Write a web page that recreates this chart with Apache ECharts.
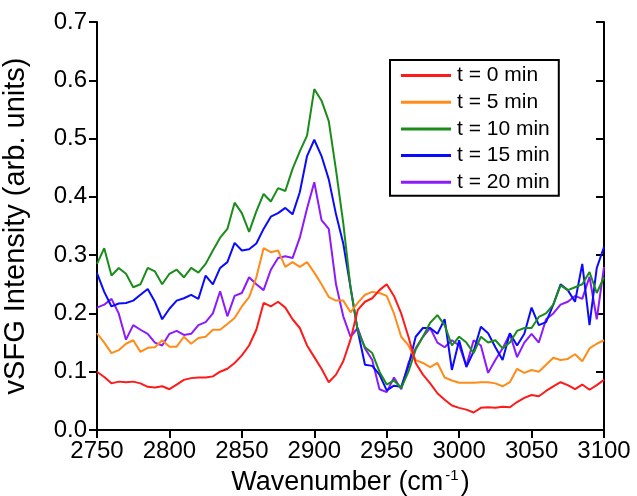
<!DOCTYPE html>
<html>
<head>
<meta charset="utf-8">
<script src="https://cdn.jsdelivr.net/npm/echarts@6/dist/echarts.min.js"></script>
<style>
  html, body { margin: 0; padding: 0; background: #fff; }
  #chart { width: 637px; height: 496px; }
</style>
</head>
<body>
<div id="chart"></div>
<script>
// Wavenumber grid (cm-1)
const wavenumbers = [
  2750, 2755, 2760, 2765, 2770, 2775, 2780, 2785, 2790, 2795,
  2800, 2805, 2810, 2815, 2820, 2825, 2830, 2835, 2840, 2845,
  2850, 2855, 2860, 2865, 2870, 2875, 2880, 2885, 2890, 2895,
  2900, 2905, 2910, 2915, 2920, 2925, 2930, 2935, 2940, 2945,
  2950, 2955, 2960, 2965, 2970, 2975, 2980, 2985, 2990, 2995,
  3000, 3005, 3010, 3015, 3020, 3025, 3030, 3035, 3040, 3045,
  3050, 3055, 3060, 3065, 3070, 3075, 3080, 3085, 3090, 3095,
  3100
];

// vSFG intensity (arb. units) for each time point
const t0 = [
  0.100, 0.091, 0.080, 0.083, 0.082, 0.083, 0.080, 0.074, 0.073, 0.075,
  0.070, 0.078, 0.086, 0.089, 0.090, 0.090, 0.092, 0.100, 0.105, 0.115,
  0.128, 0.145, 0.172, 0.218, 0.212, 0.220, 0.210, 0.190, 0.175, 0.145,
  0.125, 0.105, 0.082, 0.095, 0.118, 0.155, 0.206, 0.220, 0.226, 0.240,
  0.250, 0.230, 0.200, 0.160, 0.115, 0.095, 0.080, 0.063, 0.052, 0.042,
  0.038, 0.035, 0.030, 0.038, 0.039, 0.038, 0.040, 0.039, 0.048, 0.055,
  0.060, 0.058, 0.067, 0.075, 0.082, 0.077, 0.070, 0.078, 0.069, 0.077,
  0.086
];
const t5 = [
  0.166, 0.150, 0.132, 0.137, 0.148, 0.154, 0.134, 0.141, 0.142, 0.154,
  0.143, 0.143, 0.160, 0.148, 0.158, 0.160, 0.172, 0.172, 0.182, 0.192,
  0.212, 0.228, 0.262, 0.312, 0.305, 0.308, 0.280, 0.288, 0.280, 0.288,
  0.270, 0.250, 0.228, 0.222, 0.222, 0.202, 0.218, 0.232, 0.237, 0.235,
  0.230, 0.200, 0.160, 0.145, 0.120, 0.115, 0.108, 0.115, 0.090, 0.085,
  0.081, 0.081, 0.081, 0.082, 0.082, 0.080, 0.075, 0.082, 0.105, 0.098,
  0.103, 0.100, 0.112, 0.124, 0.120, 0.122, 0.130, 0.118, 0.140, 0.148,
  0.154
];
const t10 = [
  0.285, 0.312, 0.265, 0.278, 0.268, 0.245, 0.250, 0.278, 0.272, 0.250,
  0.268, 0.275, 0.262, 0.278, 0.270, 0.285, 0.308, 0.330, 0.345, 0.390,
  0.372, 0.340, 0.375, 0.405, 0.392, 0.415, 0.410, 0.448, 0.478, 0.505,
  0.585, 0.565, 0.530, 0.446, 0.355, 0.245, 0.170, 0.142, 0.132, 0.100,
  0.078, 0.085, 0.072, 0.100, 0.138, 0.160, 0.184, 0.197, 0.180, 0.145,
  0.160, 0.150, 0.132, 0.160, 0.150, 0.154, 0.140, 0.150, 0.170, 0.175,
  0.175, 0.194, 0.200, 0.215, 0.248, 0.240, 0.245, 0.250, 0.271, 0.235,
  0.262
];
const t15 = [
  0.269, 0.237, 0.212, 0.217, 0.218, 0.222, 0.232, 0.242, 0.220, 0.190,
  0.208, 0.222, 0.226, 0.232, 0.225, 0.265, 0.250, 0.278, 0.288, 0.321,
  0.308, 0.310, 0.320, 0.345, 0.366, 0.372, 0.381, 0.370, 0.408, 0.470,
  0.498, 0.470, 0.430, 0.370, 0.320, 0.245, 0.170, 0.112, 0.110, 0.095,
  0.068, 0.076, 0.074, 0.110, 0.160, 0.175, 0.175, 0.165, 0.190, 0.103,
  0.154, 0.108, 0.135, 0.177, 0.166, 0.142, 0.120, 0.166, 0.145, 0.165,
  0.210, 0.180, 0.185, 0.215, 0.250, 0.240, 0.220, 0.285, 0.180, 0.278,
  0.314
];
const t20 = [
  0.210, 0.215, 0.225, 0.200, 0.155, 0.180, 0.172, 0.165, 0.150, 0.145,
  0.165, 0.170, 0.163, 0.165, 0.180, 0.185, 0.200, 0.238, 0.195, 0.230,
  0.235, 0.262, 0.250, 0.240, 0.275, 0.295, 0.298, 0.295, 0.330, 0.380,
  0.425, 0.360, 0.345, 0.250, 0.195, 0.160, 0.175, 0.140, 0.120, 0.070,
  0.065, 0.090, 0.070, 0.115, 0.140, 0.160, 0.175, 0.150, 0.142, 0.154,
  0.145, 0.110, 0.154, 0.145, 0.098, 0.120, 0.140, 0.165, 0.125, 0.150,
  0.165, 0.150, 0.190, 0.200, 0.215, 0.220, 0.230, 0.225, 0.263, 0.190,
  0.280
];

const seriesNames = ['t = 0 min', 't = 5 min', 't = 10 min', 't = 15 min', 't = 20 min'];
const seriesValues = [t0, t5, t10, t15, t20];
const seriesColors = ['#ff1a1a', '#ff8c1a', '#1a8c1a', '#0a0aff', '#8c1aff'];

const xTicks = [2750, 3100, 50];   // min, max, step
const yTicks = [0, 0.7, 0.1];

const FONT = '"Liberation Sans", Arial, sans-serif';
const AXIS_LINE = { show: true, lineStyle: { color: '#000', width: 2 } };

const chart = echarts.init(document.getElementById('chart'), null, { renderer: 'canvas' });

const series = seriesNames.map((name, i) => ({
  name: name,
  type: 'line',
  xAxisIndex: 0,
  yAxisIndex: 0,
  data: wavenumbers.map((w, j) => [w, seriesValues[i][j]]),
  showSymbol: false,
  symbol: 'none',
  lineStyle: { color: seriesColors[i], width: 2 },
  itemStyle: { color: seriesColors[i] },
  animation: false,
  z: 2 + (4 - i)
}));

chart.setOption({
  animation: false,
  backgroundColor: '#fff',
  grid: {
    left: 97, right: 33, top: 22, bottom: 66,
    containLabel: false,
    outerBoundsMode: 'none'
  },
  legend: {
    orient: 'vertical',
    left: 390,
    top: 60,
    data: seriesNames,
    icon: 'rect',
    itemWidth: 50,
    itemHeight: 3,
    itemGap: 5.7,
    padding: [5, 9, 3, 11],
    borderColor: '#000',
    borderWidth: 2,
    backgroundColor: '#fff',
    textStyle: { fontFamily: FONT, fontSize: 21, color: '#000', lineHeight: 21, padding: [0, 0, 0, 1] }
  },
  xAxis: [
    {
      type: 'value', position: 'bottom',
      min: xTicks[0], max: xTicks[1], interval: xTicks[2],
      name: 'Wavenumber (cm{sup|-1})',
      nameLocation: 'middle', nameGap: 38,
      nameTextStyle: {
        fontFamily: FONT, fontSize: 27, color: '#000',
        rich: { sup: { fontFamily: FONT, fontSize: 15, color: '#000', padding: [0, 2, 14, 2] } }
      },
      axisLine: AXIS_LINE,
      axisTick: { show: true, inside: false, length: 8, lineStyle: { color: '#000', width: 2 } },
      axisLabel: { fontFamily: FONT, fontSize: 24, color: '#000', margin: 9, formatter: v => String(v) },
      splitLine: { show: false }
    },
    {
      type: 'value', position: 'top',
      min: xTicks[0], max: xTicks[1], interval: xTicks[2],
      axisLine: AXIS_LINE,
      axisTick: { show: true, inside: true, length: 8, lineStyle: { color: '#000', width: 2 } },
      axisLabel: { show: false },
      splitLine: { show: false }
    }
  ],
  yAxis: [
    {
      type: 'value', position: 'left',
      min: yTicks[0], max: yTicks[1], interval: yTicks[2],
      name: 'vSFG Intensity (arb. units)',
      nameLocation: 'middle', nameGap: 67, nameRotate: 90,
      nameTextStyle: { fontFamily: FONT, fontSize: 29, color: '#000' },
      axisLine: AXIS_LINE,
      axisTick: { show: true, inside: false, length: 8, lineStyle: { color: '#000', width: 2 } },
      axisLabel: {
        fontFamily: FONT, fontSize: 24, color: '#000', margin: 10,
        formatter: v => v.toFixed(1)
      },
      splitLine: { show: false }
    },
    {
      type: 'value', position: 'right',
      min: yTicks[0], max: yTicks[1], interval: yTicks[2],
      axisLine: AXIS_LINE,
      axisTick: { show: true, inside: true, length: 8, lineStyle: { color: '#000', width: 2 } },
      axisLabel: { show: false },
      splitLine: { show: false }
    }
  ],
  series: series
});
</script>
</body>
</html>
